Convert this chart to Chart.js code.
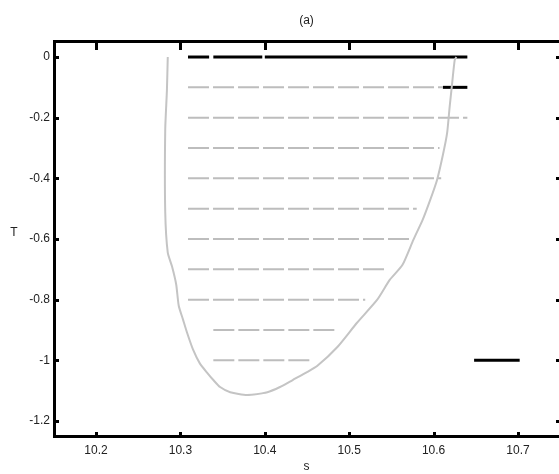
<!DOCTYPE html>
<html>
<head>
<meta charset="utf-8">
<script src="https://cdn.jsdelivr.net/npm/chart.js@4.4.0/dist/chart.umd.min.js"></script>
<style>
  html, body { margin: 0; padding: 0; background: #fff; }
  canvas { display: block; }
</style>
</head>
<body>
<canvas id="chart" width="559" height="474"></canvas>
<script>
// tick values and labels
const xTickValues = [10.2, 10.3, 10.4, 10.5, 10.6, 10.7];
const xTickLabels = ['10.2', '10.3', '10.4', '10.5', '10.6', '10.7'];
const yTickValues = [0, -0.2, -0.4, -0.6, -0.8, -1, -1.2];
const yTickLabels = ['0', '-0.2', '-0.4', '-0.6', '-0.8', '-1', '-1.2'];

// grey boundary curve
const curveX = [10.285, 10.284, 10.282, 10.282, 10.285, 10.290, 10.295, 10.298, 10.303, 10.308,
                10.315, 10.323, 10.332, 10.339, 10.347, 10.359, 10.379, 10.403, 10.418, 10.433,
                10.450, 10.462, 10.486, 10.509, 10.533, 10.548, 10.563, 10.576, 10.587, 10.596,
                10.604, 10.611, 10.616, 10.619, 10.622, 10.625, 10.627];
const curveY = [0, -0.11, -0.24, -0.51, -0.645, -0.69, -0.75, -0.82, -0.865, -0.91,
                -0.965, -1.01, -1.042, -1.065, -1.088, -1.105, -1.114, -1.105, -1.088, -1.065,
                -1.039, -1.019, -0.956, -0.877, -0.801, -0.735, -0.686, -0.603, -0.537, -0.471,
                -0.406, -0.323, -0.251, -0.165, -0.086, -0.01, 0];

// grey dashed levels
const rowLevels = [-0.1, -0.2, -0.3, -0.4, -0.5, -0.6, -0.7, -0.8, -0.9, -1.0];
const rowStart  = [10.309, 10.309, 10.309, 10.309, 10.309, 10.309, 10.309, 10.309, 10.339, 10.339];
const rowEnd    = [10.611, 10.640, 10.607, 10.609, 10.580, 10.576, 10.546, 10.519, 10.487, 10.457];

// black segments: start, end, level
const blackStart = [10.309, 10.339, 10.400, 10.611, 10.648];
const blackEnd   = [10.334, 10.397, 10.640, 10.640, 10.702];
const blackLevel = [0, 0, 0, -0.1, -1.0];

const X_MIN = 10.1502, X_MAX = 10.7486;
const Y_MIN = -1.2495, Y_MAX = 0.0528;

Chart.defaults.font.family = '"Liberation Sans", Arial, sans-serif';
Chart.defaults.font.size = 12;
Chart.defaults.color = '#222';

const datasets = [];

datasets.push({
    data: curveX.map((x, i) => ({ x: x, y: curveY[i] })),
    borderColor: '#c4c4c4',
    borderWidth: 2,
    pointRadius: 0,
    showLine: true,
    tension: 0.2
});

rowLevels.forEach((lvl, i) => {
    datasets.push({
        data: [{ x: rowStart[i], y: lvl }, { x: rowEnd[i], y: lvl }],
        borderColor: '#bdbdbd',
        borderWidth: 2,
        borderDash: [21, 4],
        pointRadius: 0,
        showLine: true
    });
});

blackLevel.forEach((lvl, i) => {
    datasets.push({
        data: [{ x: blackStart[i], y: lvl }, { x: blackEnd[i], y: lvl }],
        borderColor: '#000',
        borderWidth: 3,
        pointRadius: 0,
        showLine: true
    });
});

// ticks drawn inward on all sides, plus the horizontal "T" label
const frameTicks = {
    id: 'frameTicks',
    afterDraw(chart) {
        const ctx = chart.ctx;
        const area = chart.chartArea;
        const xs = chart.scales.x;
        const ys = chart.scales.y;
        ctx.save();
        ctx.strokeStyle = '#000';
        ctx.lineWidth = 3;
        ctx.beginPath();
        xs.ticks.forEach(t => {
            const px = Math.round(xs.getPixelForValue(t.value)) + 0.5;
            ctx.moveTo(px, area.bottom);
            ctx.lineTo(px, area.bottom - 4);
            ctx.moveTo(px, area.top);
            ctx.lineTo(px, area.top + 9);
        });
        ys.ticks.forEach(t => {
            const py = Math.round(ys.getPixelForValue(t.value)) + 0.5;
            ctx.moveTo(area.left, py);
            ctx.lineTo(area.left + 5, py);
            ctx.moveTo(area.right, py);
            ctx.lineTo(area.right - 3, py);
        });
        ctx.stroke();

        ctx.fillStyle = '#222';
        ctx.font = '12px "Liberation Sans", Arial, sans-serif';
        ctx.textAlign = 'center';
        ctx.textBaseline = 'middle';
        ctx.fillText('T', 14, 233);
        ctx.restore();
    }
};

new Chart(document.getElementById('chart'), {
    type: 'scatter',
    data: { datasets: datasets },
    options: {
        responsive: false,
        animation: false,
        devicePixelRatio: 1,
        layout: { padding: 0 },
        scales: {
            x: {
                type: 'linear',
                position: 'bottom',
                min: X_MIN,
                max: X_MAX,
                afterBuildTicks: scale => { scale.ticks = xTickValues.map(v => ({ value: v })); },
                afterFit: scale => { scale.height = 38; },
                ticks: {
                    padding: 7,
                    maxRotation: 0,
                    callback: (value, index) => xTickLabels[index]
                },
                grid: { display: false, drawTicks: false },
                border: { display: true, color: '#000', width: 3 },
                title: { display: true, text: 's', padding: 0 }
            },
            x2: {
                type: 'linear',
                axis: 'x',
                position: 'top',
                min: X_MIN,
                max: X_MAX,
                afterFit: scale => { scale.height = 41; },
                ticks: { display: false },
                grid: { display: false, drawTicks: false },
                border: { display: true, color: '#000', width: 3 },
                title: { display: true, text: '(a)', padding: { top: 13, bottom: 0 } }
            },
            y: {
                type: 'linear',
                min: Y_MIN,
                max: Y_MAX,
                afterBuildTicks: scale => { scale.ticks = yTickValues.map(v => ({ value: v })); },
                afterFit: scale => { scale.width = 54; },
                ticks: {
                    padding: 4,
                    callback: (value, index) => yTickLabels[index]
                },
                grid: { display: false, drawTicks: false },
                border: { display: true, color: '#000', width: 3 }
            }
        },
        plugins: {
            legend: { display: false },
            tooltip: { enabled: false }
        }
    },
    plugins: [frameTicks]
});
</script>
</body>
</html>
